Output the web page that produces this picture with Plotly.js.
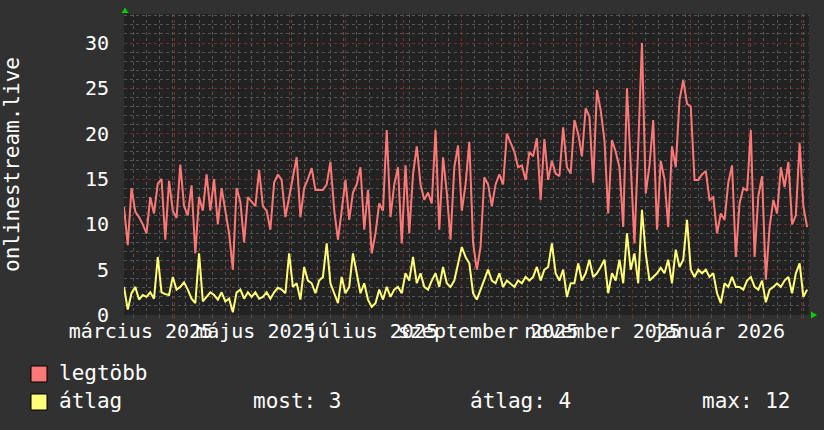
<!DOCTYPE html>
<html>
<head>
<meta charset="utf-8">
<script src="https://cdn.plot.ly/plotly-3.0.1.min.js"></script>
<style>
  html, body { margin: 0; padding: 0; background: #313131; }
  #chart { width: 824px; height: 430px; }
</style>
</head>
<body>
<div id="chart"></div>
<script>
// ---- data (one sample every 2 days) ----
const startDate = '2025-03-05';
const stepDays = 2;

const legtobb = [
  11.9, 7.7, 14, 11.4, 10.8, 10, 9, 13, 11.2, 14.5,
  15, 8.3, 14.8, 11.5, 10.7, 16.6, 12, 11, 14.3, 6.8,
  13, 11.5, 15.5, 11.5, 15, 10, 14, 11.5, 9, 5,
  14, 12.5, 8, 13, 12.5, 12, 16, 12, 11.5, 9.4,
  14.6, 15.5, 14.9, 10.8, 13, 15.2, 17.4, 10.8, 14, 15,
  16.2, 13.8, 13.8, 13.8, 14.4, 16.9, 11.6, 8.3, 11.5, 14.9,
  10.5, 13.5, 14.4, 16.3, 9.4, 13.8, 6.8, 9, 12.3, 11.5,
  20.4, 10.8, 14.4, 16.3, 7.9, 16.5, 9, 15.5, 18.6, 14.4,
  12.7, 13.5, 12.3, 20.4, 9.4, 17.4, 13.5, 8.3, 16.3, 18.7,
  11.5, 14.4, 19.1, 8, 5, 7.5, 15.2, 14.4, 12, 14.4,
  15.5, 14.4, 20, 19, 18, 16.3, 16.5, 14.9, 18, 17.5,
  19.5, 12.7, 19.4, 14.9, 17, 15.6, 15.3, 20.7, 16.3, 15.6,
  21.5, 20, 17.5, 22.8, 21.9, 14.6, 24.8, 22.6, 19.3, 11.2,
  19.3, 18, 16.3, 9.7, 25, 16.6, 7.9, 18.6, 30, 13.4,
  16.5, 21.5, 9.4, 17, 15, 9.7, 18.6, 16.3, 23.7, 25.9,
  23.3, 23, 14.9, 14.9, 15.5, 15.9, 12.7, 13, 9, 11.2,
  10.5, 14.6, 16.5, 6.4, 12.3, 14, 13.7, 20.4, 6.4, 13.1,
  15.3, 3.9, 9.7, 12.7, 11.2, 16.3, 14.1, 16.9, 10, 11,
  19, 12, 9.7
];

const atlag = [
  3.1, 0.6, 2.4, 3.1, 1.7, 2.2, 2, 2.5, 1.8, 6.4,
  2.5, 2.3, 2.2, 4.2, 2.8, 3.1, 3.6, 2.8, 1.8, 1.3,
  6.8, 1.5, 2, 2.5, 2.2, 1.7, 2.5, 1.5, 1.8, 0.3,
  2.5, 2.8, 1.8, 2.5, 2, 2.5, 1.8, 2, 2.5, 1.8,
  2.5, 3, 2.8, 2.4, 6.8, 3.1, 3.5, 1.7, 5.3, 3.8,
  3.5, 2.4, 3.8, 4.2, 7.9, 3.5, 2.4, 1.3, 4.2, 2.4,
  3.1, 6.8, 4.6, 2.4, 3.5, 1.7, 0.9, 1.3, 2.8, 1.7,
  3.1, 2, 2.8, 3.1, 2.4, 4.6, 3.8, 6.4, 3.5, 4.6,
  3.1, 2.8, 3.8, 4.6, 3.1, 5.3, 3.5, 3.1, 3.8, 5.7,
  7.5, 6.4, 5.7, 2.4, 1.7, 2.8, 3.8, 5, 3.8, 3.5,
  4.6, 3.1, 3.8, 3.5, 3.1, 3.8, 3.5, 4.2, 3.8, 4.2,
  5.3, 3.8, 5, 5.3, 7.9, 4.6, 3.8, 5, 2, 3.5,
  3.5, 5.7, 3.8, 4.6, 6.1, 4.2, 4.6, 5.3, 6.1, 2.4,
  4.6, 3.8, 6.1, 3.5, 9, 5, 6.8, 3.5, 11.6, 6.8,
  3.8, 4.2, 4.6, 5.2, 4.6, 6.1, 3.5, 7.2, 5.3, 6.1,
  10.5, 5, 4.2, 5, 4.6, 5, 4.2, 4.6, 2.4, 1.3,
  3.5, 3.1, 4.2, 3.1, 3.1, 2.8, 3.8, 4.2, 3.1, 2.8,
  3.8, 1.4, 2.8, 3.1, 3.5, 3.1, 3.8, 4.2, 2.4, 4.6,
  5.7, 2, 2.8
];

const seriesNames = ['legtöbb', 'átlag'];
const seriesColors = ['#ff7878', '#ffff78'];
const statLabels = ['most', 'átlag', 'max'];
const statValues = [3, 4, 12];

const monthLabelDates = ['2025-03-14', '2025-05-14', '2025-07-15', '2025-09-15', '2025-11-15', '2026-01-16'];
const monthLabelTexts = ['március 2025', 'május 2025', 'július 2025', 'szeptember 2025', 'november 2025', 'január 2026'];
const axisTitle = 'onlinestream.live';
const xRange = ['2025-03-05', '2026-03-05'];
const yRange = [0, 33.2];

// ---- build x dates ----
function dateSeq(start, step, n) {
  const out = [];
  const d0 = new Date(start + 'T00:00:00Z');
  for (let i = 0; i < n; i++) {
    const d = new Date(d0.getTime() + i * step * 86400000);
    out.push(d.toISOString().slice(0, 10));
  }
  return out;
}
const dates = dateSeq(startDate, stepDays, legtobb.length);

const FONT = 'DejaVu Sans Mono, monospace';
const BG = '#313131';
const PLOTBG = '#222222';
const MAJOR = 'rgba(135,48,48,0.85)';
const MINOR = 'rgba(95,95,95,0.85)';

const traces = [
  { x: dates, y: legtobb, name: seriesNames[0], type: 'scatter', mode: 'lines',
    line: { color: seriesColors[0], width: 2 }, hoverinfo: 'skip' },
  { x: dates, y: atlag, name: seriesNames[1], type: 'scatter', mode: 'lines',
    line: { color: seriesColors[1], width: 2 }, hoverinfo: 'skip' },
  // invisible trace to carry the label axis
  { x: monthLabelDates, y: monthLabelDates.map(() => null), xaxis: 'x2', yaxis: 'y',
    type: 'scatter', mode: 'lines', showlegend: false, hoverinfo: 'skip' }
];

// legend via shapes + annotations (paper coords)
const PW = 685, PH = 301, L = 124, T = 14;
const px = v => (v - L) / PW;
const py = v => (T + PH - v) / PH;

const shapes = [
  { type: 'rect', xref: 'paper', yref: 'paper', x0: px(31), x1: px(47), y0: py(382), y1: py(366),
    fillcolor: seriesColors[0], line: { color: '#000', width: 1 } },
  { type: 'rect', xref: 'paper', yref: 'paper', x0: px(31), x1: px(47), y0: py(410), y1: py(394),
    fillcolor: seriesColors[1], line: { color: '#000', width: 1 } },
  // arrows
  { type: 'path', xref: 'paper', yref: 'paper',
    path: `M ${px(121.5)},${py(13)} L ${px(128.5)},${py(13)} L ${px(125)},${py(7.5)} Z`,
    fillcolor: '#00d000', line: { width: 0 } },
  { type: 'path', xref: 'paper', yref: 'paper',
    path: `M ${px(811)},${py(311.5)} L ${px(811)},${py(318.5)} L ${px(817)},${py(315)} Z`,
    fillcolor: '#00d000', line: { width: 0 } }
];

const annFont = { family: FONT, size: 21, color: '#ffffff' };
const annotations = [
  { xref: 'paper', yref: 'paper', x: px(57), y: py(373), xanchor: 'left', yanchor: 'middle',
    text: seriesNames[0], showarrow: false, font: annFont },
  { xref: 'paper', yref: 'paper', x: px(57), y: py(401), xanchor: 'left', yanchor: 'middle',
    text: seriesNames[1], showarrow: false, font: annFont },
  { xref: 'paper', yref: 'paper', x: px(251), y: py(401), xanchor: 'left', yanchor: 'middle',
    text: statLabels[0] + ': ' + statValues[0], showarrow: false, font: annFont },
  { xref: 'paper', yref: 'paper', x: px(468), y: py(401), xanchor: 'left', yanchor: 'middle',
    text: statLabels[1] + ': ' + statValues[1], showarrow: false, font: annFont },
  { xref: 'paper', yref: 'paper', x: px(700), y: py(401), xanchor: 'left', yanchor: 'middle',
    text: statLabels[2] + ': ' + statValues[2], showarrow: false, font: annFont }
];

const layout = {
  width: 824, height: 430,
  margin: { l: 124, r: 15, t: 14, b: 115, pad: 0 },
  paper_bgcolor: BG, plot_bgcolor: PLOTBG,
  showlegend: false,
  font: { family: FONT, size: 20, color: '#ffffff' },
  xaxis: {
    type: 'date', range: xRange, fixedrange: true,
    showticklabels: false,
    showgrid: true, gridcolor: MAJOR, griddash: 'dot', gridwidth: 1,
    dtick: 'M1', tick0: '2025-04-01',
    ticks: 'outside', ticklen: 3, tickcolor: MAJOR,
    minor: { dtick: 7 * 86400000, tick0: '2025-03-03', showgrid: true, gridcolor: MINOR,
             griddash: 'dot', gridwidth: 1, ticks: 'outside', ticklen: 2, tickcolor: MINOR },
    zeroline: false, showline: false
  },
  xaxis2: {
    type: 'date', range: xRange, overlaying: 'x', anchor: 'y', side: 'bottom', fixedrange: true,
    tickmode: 'array', tickvals: monthLabelDates, ticktext: monthLabelTexts,
    tickangle: 0, ticks: '', showgrid: false, zeroline: false, showline: false,
    tickfont: { family: FONT, size: 20, color: '#ffffff' }, ticklabelstandoff: 2
  },
  yaxis: {
    range: yRange, fixedrange: true,
    dtick: 5, tick0: 0,
    showgrid: true, gridcolor: MAJOR, griddash: 'dot', gridwidth: 1,
    minor: { dtick: 1, showgrid: true, gridcolor: MINOR, griddash: 'dot', gridwidth: 1 },
    ticks: '', zeroline: false, showline: false,
    tickfont: { family: FONT, size: 20, color: '#ffffff' }, ticklabelstandoff: 14,
    title: { text: axisTitle, font: { family: FONT, size: 21, color: '#ffffff' }, standoff: 61 }
  },
  shapes: shapes,
  annotations: annotations
};

Plotly.newPlot('chart', traces, layout, { staticPlot: true, displayModeBar: false });
</script>
</body>
</html>
